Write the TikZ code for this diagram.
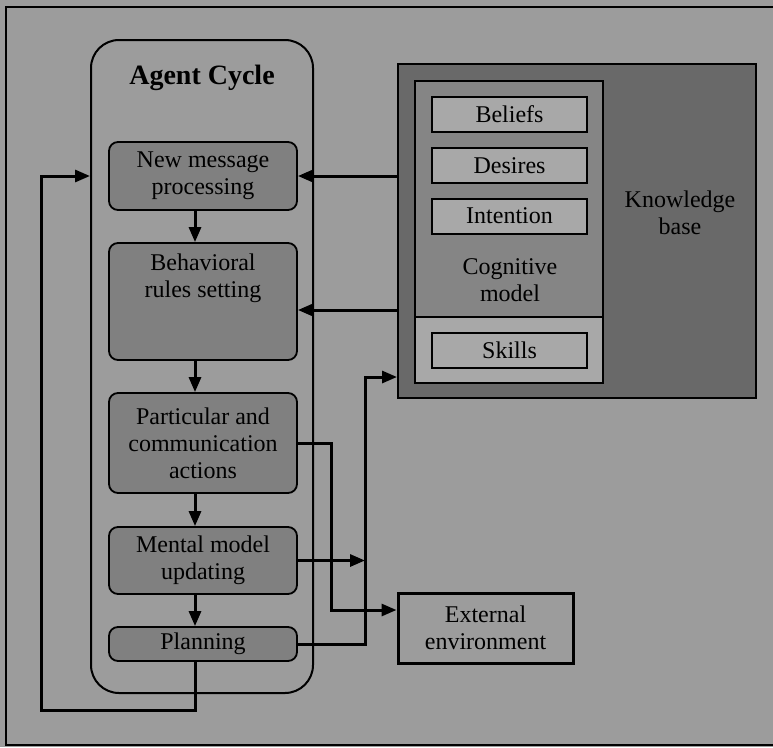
\documentclass[tikz,border=0pt]{standalone}
\usepackage{fontspec}
\setmainfont{Liberation Serif}
\usetikzlibrary{arrows.meta}

\definecolor{paper}{gray}{0.61}
\definecolor{stagegray}{gray}{0.50}
\definecolor{kbgray}{gray}{0.41}
\definecolor{cogngray}{gray}{0.52}
\definecolor{itemgray}{gray}{0.66}

\tikzset{
  stage/.style={draw, fill=stagegray, line width=1.8pt, rounded corners=9pt,
    minimum width=188pt, inner sep=3pt, align=center},
  kbitem/.style={draw, fill=itemgray, line width=2pt, minimum width=155pt,
    minimum height=35pt, inner sep=2pt},
  flow/.style={line width=3pt, -{Triangle[length=15pt,width=12pt]}},
}

\begin{document}
\begin{tikzpicture}[x=1pt, y=-1pt, font=\fontsize{24}{27}\selectfont]

  % 背景と枠
  \useasboundingbox (0,0) rectangle (773,747);
  \fill [paper] (0,0) rectangle (773,747);
  \draw [line width=2pt] (773,7) -- (6,7) -- (6,745) -- (773,745);

  % Agent Cycle
  \node (cycle) [draw, line width=2pt, rounded corners=28pt, minimum width=222pt,
    minimum height=653pt] at (202,366.5) {};
  \node (title) at (202,78) {\fontsize{28}{32}\selectfont\bfseries Agent Cycle};

  % 各段階
  \node (newmsg) [stage, minimum height=68pt] at (203,176) {New message\\processing};
  \node (behav) [stage, minimum height=117pt] at (203,301.5) {};
  \node [anchor=north, align=center] at ([yshift=-8pt]behav.north) {Behavioral\\rules setting};
  \node (partic) [stage, minimum height=100pt] at (203,443) {Particular and\\communication\\actions};
  \node (mental) [stage, minimum height=67pt] at (203,560.5) {Mental model\\updating};
  \node (plan) [stage, minimum height=34pt] at (203,644) {Planning};

  % 段階間の矢印
  \foreach \a/\b in {newmsg/behav, behav/partic, partic/mental, mental/plan}
    \draw [flow] ([xshift=-8pt]\a.south) -- ([xshift=-8pt]\b.north);

  % フィードバック
  \draw [flow] ([xshift=-8pt]plan.south) |- (41,710) |- (cycle.west |- newmsg.east);

  % Knowledge base
  \node (kb) [draw, fill=kbgray, line width=2pt, minimum width=358pt,
    minimum height=334pt] at (577,231) {};
  \node [align=center] at (680,213) {Knowledge\\base};
  \node (cogn) [draw, fill=cogngray, line width=2pt, minimum width=188pt,
    minimum height=236pt] at (509,199) {};
  \node (skillpart) [draw, fill=itemgray, line width=2pt, minimum width=188pt,
    minimum height=66pt] at (509,350) {};
  \node (beliefs) [kbitem] at (509.5,114.5) {Beliefs};
  \node (desires) [kbitem] at (509.5,165.5) {Desires};
  \node (intent) [kbitem] at (509.5,216) {Intention};
  \node [align=center] at (510,280) {Cognitive\\model};
  \node (skills) [kbitem] at (509.5,350) {Skills};

  % External environment
  \node (ext) [draw, line width=3pt, minimum width=175pt, minimum height=70pt,
    align=center] at (485.5,628) {External\\environment};

  % Knowledge base から
  \draw [flow] (kb.west |- newmsg.east) -- (newmsg.east);
  \draw [flow] (kb.west |- 0,310) -- (behav.east |- 0,310);

  % Knowledge base へ・外部へ
  \coordinate (jn) at (365,377);
  \draw [flow] (plan.east) -| (jn) -- (kb.west |- jn);
  \draw [flow] (mental.east) -- (mental.east -| jn);
  \draw [flow] (partic.east) -| (331,610) -- (ext.west |- 0,610);

\end{tikzpicture}
\end{document}
